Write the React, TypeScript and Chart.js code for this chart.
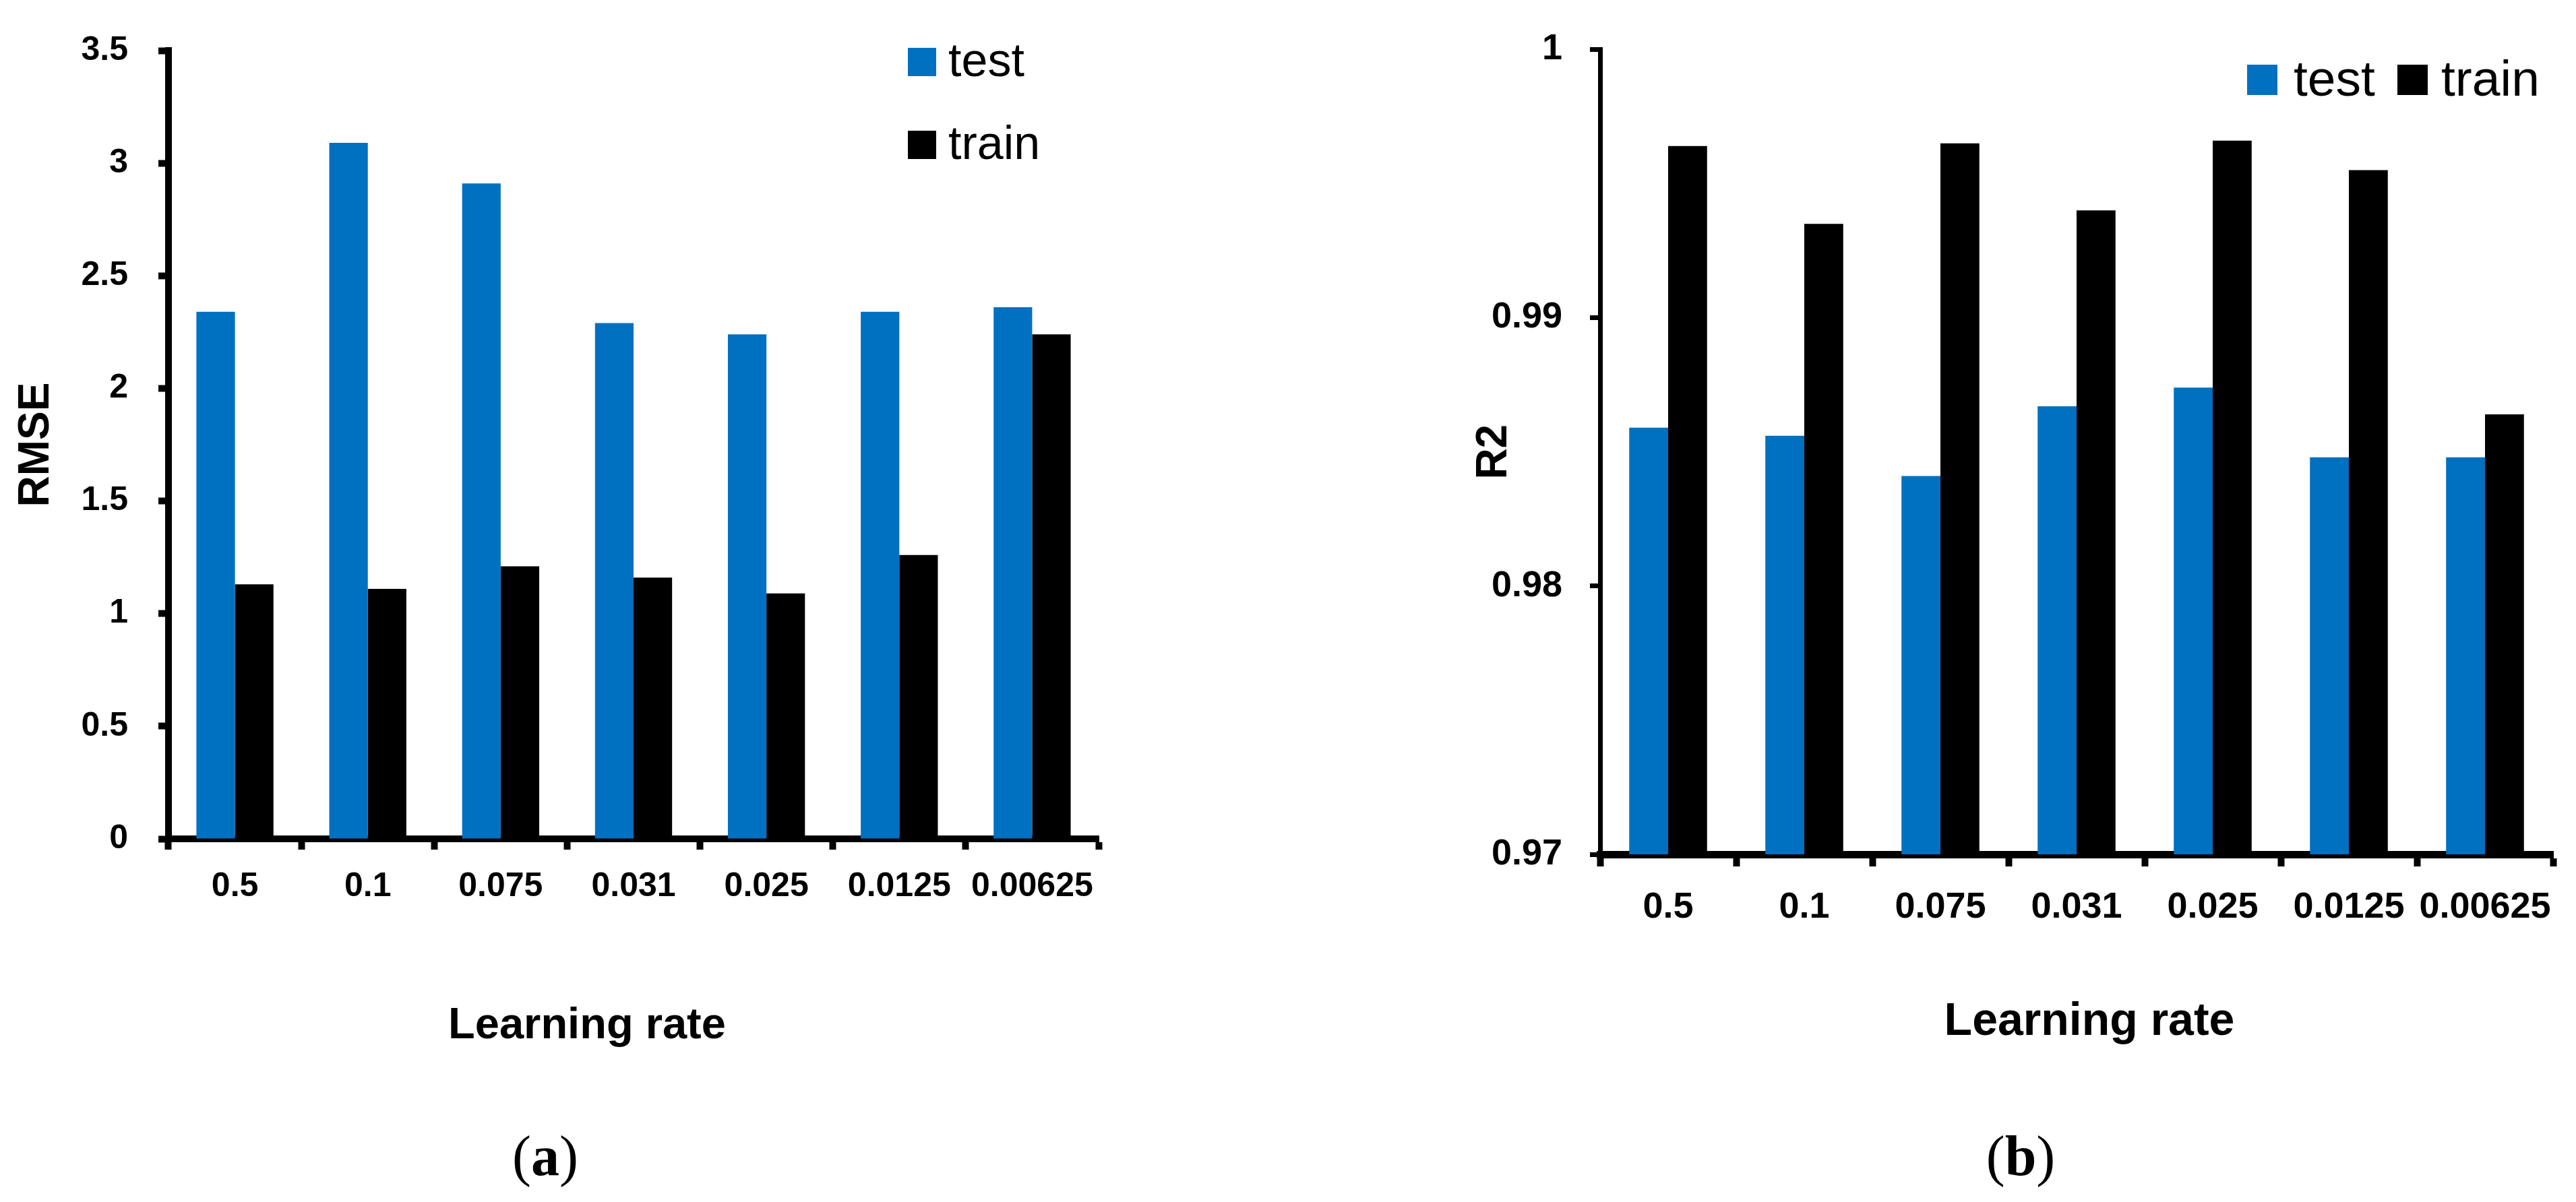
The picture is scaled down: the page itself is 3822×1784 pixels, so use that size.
import React, { useEffect, useRef } from 'react';
import { Chart, registerables } from 'chart.js';

Chart.register(...registerables);

// ---------- data ----------
const learningRates = ['0.5', '0.1', '0.075', '0.031', '0.025', '0.0125', '0.00625'];
const seriesNames = ['test', 'train'];

const rmseTest = [2.34, 3.09, 2.91, 2.29, 2.24, 2.34, 2.36];
const rmseTrain = [1.13, 1.11, 1.21, 1.16, 1.09, 1.26, 2.24];

const r2Test = [0.9859, 0.9856, 0.9841, 0.9867, 0.9874, 0.9848, 0.9848];
const r2Train = [0.9964, 0.9935, 0.9965, 0.994, 0.9966, 0.9955, 0.9864];

const rmseTickValues = [0, 0.5, 1, 1.5, 2, 2.5, 3, 3.5];
const rmseTickLabels = ['0', '0.5', '1', '1.5', '2', '2.5', '3', '3.5'];
const r2TickValues = [0.97, 0.98, 0.99, 1];
const r2TickLabels = ['0.97', '0.98', '0.99', '1'];

const BLUE = '#0070C0';
const BLACK = '#000000';

const TICK_FAMILY = "'Liberation Sans', Arial, sans-serif";
const TITLE_FAMILY = "'Liberation Sans', Arial, sans-serif";

// custom legend drawn inside the plot, from the chart's datasets
const boxLegend = {
  id: 'boxLegend',
  afterDraw(chart: any, _args: any, opts: any) {
    const { ctx } = chart;
    ctx.save();
    (opts.items || []).forEach((it: any, i: number) => {
      const ds = chart.data.datasets[i];
      ctx.fillStyle = ds.backgroundColor;
      ctx.fillRect(it.bx, it.by, opts.box, opts.box);
      ctx.fillStyle = '#000';
      ctx.font = opts.font;
      ctx.textBaseline = 'alphabetic';
      ctx.textAlign = 'left';
      ctx.fillText(ds.label, it.tx, it.ty);
    });
    ctx.restore();
  },
};

function makeConfig(p: {
  test: number[];
  train: number[];
  min: number;
  max: number;
  tickValues: number[];
  tickLabels: string[];
  yTitle: string;
  yWidth: number;
  yTitlePad: number;
  yTickPad: number;
  yTickLen: number;
  yLineW: number;
  xTickLen: number;
  xLineW: number;
  xTickPad: number;
  tickFont: number;
  pad: { left: number; top: number; right: number; bottom: number };
  catPct: number;
  legend: any;
}) {
  return {
    type: 'bar' as const,
    data: {
      labels: learningRates,
      datasets: [
        { label: seriesNames[0], data: p.test, backgroundColor: BLUE, borderWidth: 0, categoryPercentage: p.catPct, barPercentage: 1 },
        { label: seriesNames[1], data: p.train, backgroundColor: BLACK, borderWidth: 0, categoryPercentage: p.catPct, barPercentage: 1 },
      ],
    },
    plugins: [boxLegend],
    options: {
      responsive: false,
      animation: false as const,
      devicePixelRatio: 1,
      layout: { padding: p.pad },
      plugins: {
        legend: { display: false },
        tooltip: { enabled: false },
        boxLegend: p.legend,
      },
      scales: {
        x: {
          z: 1,
          offset: true,
          grid: {
            offset: true,
            drawOnChartArea: false,
            drawTicks: true,
            tickLength: p.xTickLen,
            tickWidth: 10,
            tickColor: '#000',
          },
          border: { display: true, color: '#000', width: p.xLineW },
          ticks: {
            color: '#000',
            padding: p.xTickPad,
            maxRotation: 0,
            autoSkip: false,
            font: { family: TICK_FAMILY, weight: 'bold', size: p.tickFont },
          },
          afterFit: (s: any) => {
            s.height = 150;
          },
        },
        y: {
          z: 1,
          min: p.min,
          max: p.max,
          afterBuildTicks: (s: any) => {
            s.ticks = p.tickValues.map((v) => ({ value: v }));
          },
          grid: {
            drawOnChartArea: false,
            drawTicks: true,
            tickLength: p.yTickLen,
            tickWidth: p.yLineW,
            tickColor: '#000',
          },
          border: { display: true, color: '#000', width: p.yLineW },
          ticks: {
            color: '#000',
            padding: p.yTickPad,
            font: { family: TICK_FAMILY, weight: 'bold', size: p.tickFont },
            callback: (_v: any, i: number) => p.tickLabels[i],
          },
          title: {
            display: true,
            text: p.yTitle,
            color: '#000',
            font: { family: TITLE_FAMILY, weight: 'bold', size: 64 },
            padding: { top: p.yTitlePad, bottom: 0 },
          },
          afterFit: (s: any) => {
            s.width = p.yWidth;
          },
        },
      },
    },
  };
}

function ChartCanvas({ config, left, width, height }: { config: any; left: number; width: number; height: number }) {
  const ref = useRef<HTMLCanvasElement | null>(null);
  useEffect(() => {
    if (!ref.current) return;
    const chart = new Chart(ref.current, config);
    return () => chart.destroy();
  }, [config]);
  return (
    <canvas
      ref={ref}
      width={width}
      height={height}
      style={{ position: 'absolute', left, top: 0, width, height }}
    />
  );
}

const leftConfig = makeConfig({
  test: rmseTest,
  train: rmseTrain,
  min: 0,
  max: 3.5,
  tickValues: rmseTickValues,
  tickLabels: rmseTickLabels,
  yTitle: 'RMSE',
  yWidth: 250,
  yTitlePad: 16,
  yTickPad: 45,
  yTickLen: 15,
  yLineW: 10,
  xTickLen: 16,
  xLineW: 10,
  xTickPad: 25,
  tickFont: 50,
  pad: { left: 0, top: 55, right: 270, bottom: 389 },
  catPct: 0.58,
  legend: {
    box: 42,
    font: `70px ${TITLE_FAMILY}`,
    items: [
      { bx: 1347, by: 71, tx: 1407, ty: 113 },
      { bx: 1347, by: 194, tx: 1407, ty: 236 },
    ],
  },
});

const rightConfig = makeConfig({
  test: r2Test,
  train: r2Train,
  min: 0.97,
  max: 1,
  tickValues: r2TickValues,
  tickLabels: r2TickLabels,
  yTitle: 'R2',
  yWidth: 474,
  yTitlePad: 279,
  yTickPad: 41,
  yTickLen: 15,
  yLineW: 7,
  xTickLen: 18,
  xLineW: 11,
  xTickPad: 29,
  tickFont: 54,
  pad: { left: 0, top: 55, right: 34, bottom: 366 },
  catPct: 0.572,
  legend: {
    box: 45,
    font: `75px ${TITLE_FAMILY}`,
    items: [
      { bx: 1434, by: 96, tx: 1503, ty: 142 },
      { bx: 1657, by: 96, tx: 1722, ty: 142 },
    ],
  },
});

const textBase: React.CSSProperties = {
  position: 'absolute',
  transform: 'translateX(-50%)',
  whiteSpace: 'nowrap',
  color: '#000',
  lineHeight: 1,
};

export default function App() {
  return (
    <div
      style={{
        position: 'absolute',
        left: 0,
        top: 0,
        width: 3822,
        height: 1784,
        background: '#fff',
        overflow: 'hidden',
      }}
    >
      <ChartCanvas config={leftConfig} left={0} width={1900} height={1784} />
      <ChartCanvas config={rightConfig} left={1900} width={1922} height={1784} />

      <div style={{ ...textBase, left: 871, top: 1486, fontFamily: TITLE_FAMILY, fontWeight: 'bold', fontSize: 65 }}>
        Learning rate
      </div>
      <div style={{ ...textBase, left: 3100, top: 1478, fontFamily: TITLE_FAMILY, fontWeight: 'bold', fontSize: 68 }}>
        Learning rate
      </div>

      <div style={{ ...textBase, left: 809, top: 1674, fontFamily: "'Liberation Serif', serif", fontSize: 84 }}>
        (<b>a</b>)
      </div>
      <div style={{ ...textBase, left: 2998, top: 1674, fontFamily: "'Liberation Serif', serif", fontSize: 84 }}>
        (<b>b</b>)
      </div>
    </div>
  );
}
